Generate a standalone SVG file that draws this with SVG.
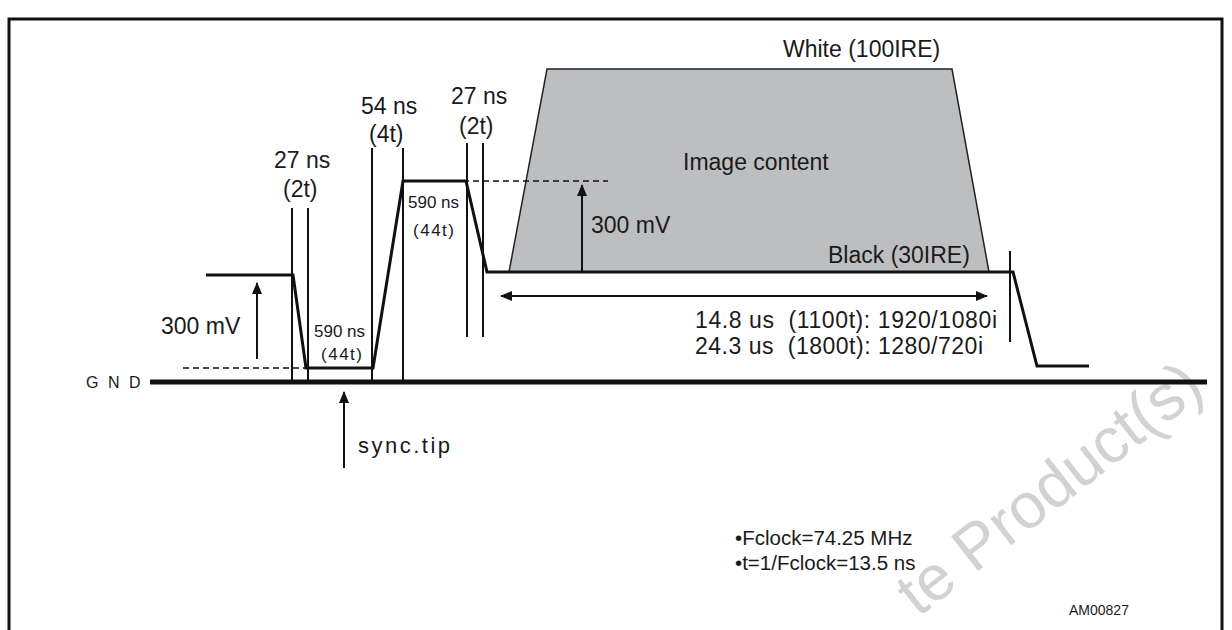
<svg xmlns="http://www.w3.org/2000/svg" width="1232" height="630" viewBox="0 0 1232 630">
<defs>
<marker id="ah" markerWidth="12" markerHeight="12" refX="11" refY="6" orient="auto" markerUnits="userSpaceOnUse">
<path d="M0,1 L12,6 L0,11 Z" fill="#111"/>
</marker>
<marker id="ahs" markerWidth="12" markerHeight="12" refX="1" refY="6" orient="auto" markerUnits="userSpaceOnUse">
<path d="M12,1 L0,6 L12,11 Z" fill="#111"/>
</marker>
</defs>
<style>
text{font-family:"Liberation Sans",Arial,sans-serif;fill:#1a1a1a}
.lbl{font-size:23px}
.sm{font-size:17px}
.thin{stroke:#111;stroke-width:2;fill:none}
.wave{stroke:#111;stroke-width:3;fill:none;stroke-linejoin:miter}
.dash{stroke:#111;stroke-width:1.6;stroke-dasharray:6 4;fill:none}
.arr{stroke:#111;stroke-width:2;fill:none}
</style>
<rect width="1232" height="630" fill="#fff"/>
<g id="watermark">
<text x="918" y="618" transform="rotate(-38 918 618)" style="font-size:64px;fill:#d2d2d2">te Product(s)</text>
</g>
<g id="frame">
<path d="M9,630 V19 H1222 V630" fill="none" stroke="#111" stroke-width="3"/>
</g>
<g id="image-content">
<polygon points="547,69 952,69 989,272 509,272" fill="#bdbec0" stroke="#222" stroke-width="1.5"/>
<text class="lbl" x="683" y="170">Image content</text>
</g>
<g id="gnd">
<line x1="150" y1="382" x2="1207" y2="382" stroke="#111" stroke-width="5"/>
<text x="86" y="388" style="font-size:16px;letter-spacing:2.5px">G N D</text>
</g>
<g id="connectors">
<polyline class="wave" points="206,275 293,275 306,368 373,368 403,181 466,181 487,272 1013,272 1037,366 1089,366"/>
<line class="dash" x1="183" y1="368" x2="306" y2="368"/>
<line class="dash" x1="423" y1="181" x2="608" y2="181"/>
<line class="thin" x1="292" y1="208" x2="292" y2="382"/>
<line class="thin" x1="308" y1="208" x2="308" y2="382"/>
<line class="thin" x1="372" y1="148" x2="372" y2="382"/>
<line class="thin" x1="403" y1="148" x2="403" y2="382"/>
<line class="thin" x1="467" y1="143" x2="467" y2="337"/>
<line class="thin" x1="483" y1="143" x2="483" y2="337"/>
<line class="thin" x1="1010" y1="251" x2="1010" y2="342"/>
<line class="arr" x1="257" y1="359" x2="257" y2="283" marker-end="url(#ah)"/>
<line class="arr" x1="344" y1="468" x2="344" y2="392" marker-end="url(#ah)"/>
<line class="arr" x1="582" y1="272" x2="582" y2="185" marker-end="url(#ah)"/>
<line class="arr" x1="501" y1="296" x2="987" y2="296" marker-start="url(#ahs)" marker-end="url(#ah)"/>
</g>
<g id="labels-left">
<text class="lbl" x="274" y="168">27 ns</text>
<text class="lbl" x="283" y="197">(2t)</text>
<text class="lbl" x="361" y="114">54 ns</text>
<text class="lbl" x="369" y="142">(4t)</text>
<text class="lbl" x="451" y="104">27 ns</text>
<text class="lbl" x="459" y="134">(2t)</text>
<text class="sm" x="408" y="208">590 ns</text>
<text class="sm" x="413" y="236" textLength="41">(44t)</text>
<text class="sm" x="314" y="337">590 ns</text>
<text class="sm" x="321" y="360" textLength="41">(44t)</text>
<text class="lbl" x="161" y="334">300 mV</text>
<text x="358" y="453" style="font-size:22px;letter-spacing:2.5px">sync.tip</text>
</g>
<g id="labels-right">
<text class="lbl" x="783" y="57">White (100IRE)</text>
<text class="lbl" x="591" y="233">300 mV</text>
<text class="lbl" x="828" y="263">Black (30IRE)</text>
<text class="lbl" x="695" y="328" textLength="302" xml:space="preserve">14.8 us  (1100t): 1920/1080i</text>
<text class="lbl" x="695" y="354" textLength="288" xml:space="preserve">24.3 us  (1800t): 1280/720i</text>
<text style="font-size:20.5px" x="735" y="545">•Fclock=74.25 MHz</text>
<text style="font-size:20.5px" x="735" y="570">•t=1/Fclock=13.5 ns</text>
<text style="font-size:14px" x="1069" y="615">AM00827</text>
</g>
</svg>
